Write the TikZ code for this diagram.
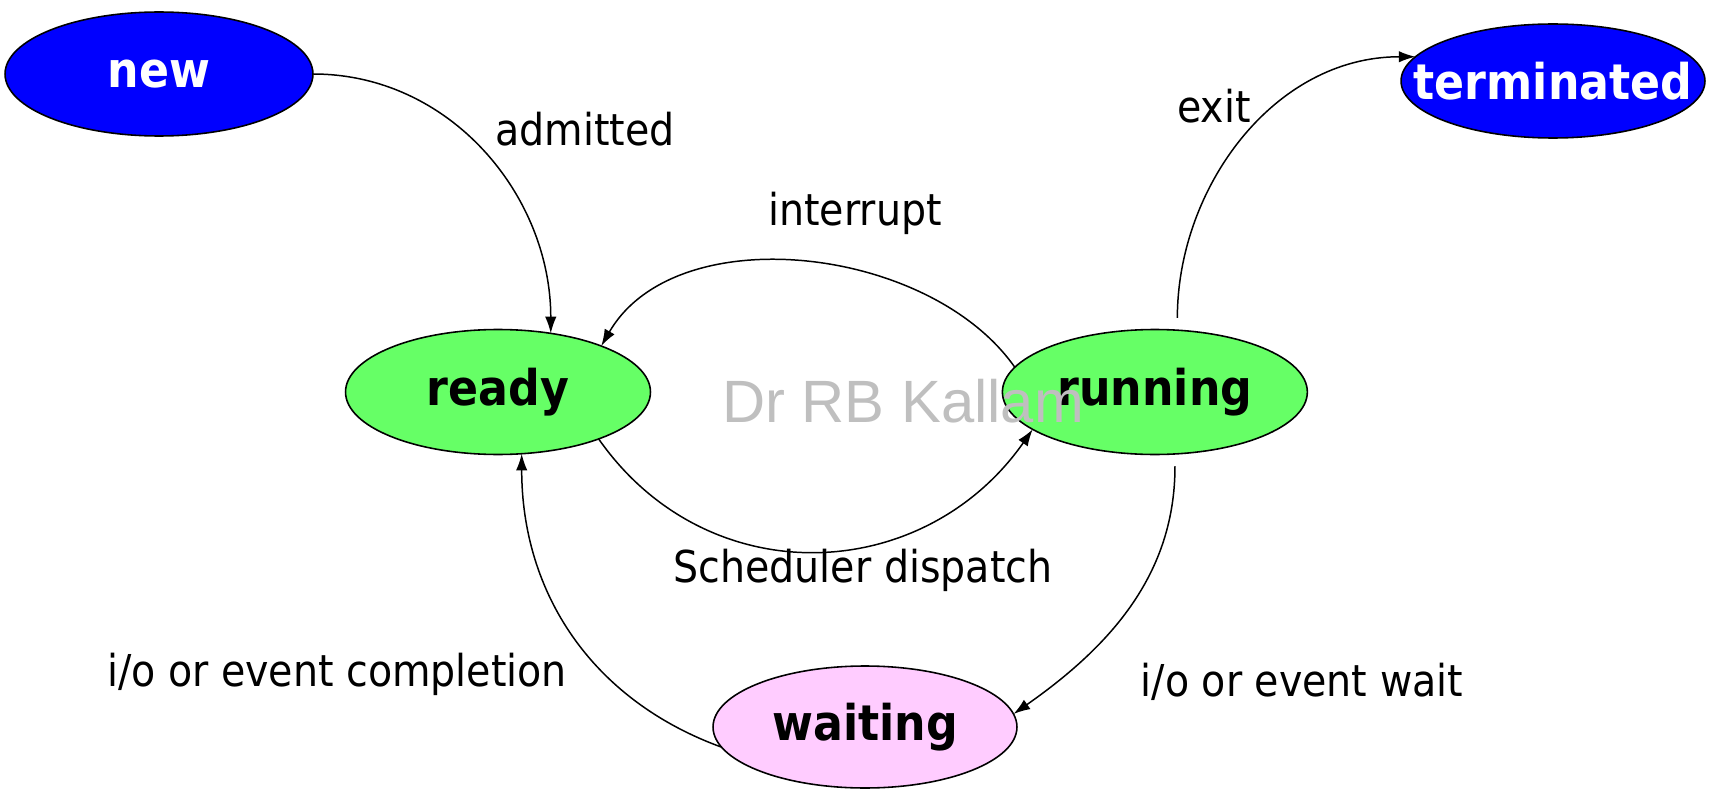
\documentclass[tikz,border=0pt]{standalone}
\usepackage{fontspec}
\setmainfont{DejaVu Sans Condensed}
\newfontfamily\markfont{Liberation Sans}
\usetikzlibrary{shapes.geometric, arrows.meta, positioning}
\definecolor{stateblue}{RGB}{0,0,255}
\definecolor{stategreen}{RGB}{102,255,102}
\definecolor{statepink}{RGB}{255,204,255}
\begin{document}
\begin{tikzpicture}[x=0.02cm, y=0.02cm, every node/.style={font=\fontsize{25}{30}\selectfont},
                    state/.style={ellipse, draw=black, line width=0.9pt, inner sep=0pt, outer sep=0pt,
                                  minimum width=6.1cm, minimum height=2.5cm,
                                  font=\fontsize{28}{32}\selectfont\bfseries},
                    edge/.style={line width=0.85pt, -{Latex[length=9.5pt, width=6.5pt]}}]
    \useasboundingbox (0,0) rectangle (1711,-794);
    \node[state, fill=stategreen] (ready) at (498,-392) {\makebox[0pt]{ready}};
    \node[state, fill=stategreen, right of=ready, node distance=13.14cm] (run) {\makebox[0pt]{running}};
    \node[state, fill=stateblue, text=white, minimum height=2.48cm, minimum width=6.16cm] (new) at (159,-74) {\makebox[0pt]{new}};
    \node[state, fill=stateblue, text=white, minimum height=2.28cm, minimum width=6.08cm] (term) at (1553,-81) {\makebox[0pt]{terminated}};
    \node[state, fill=statepink, minimum height=2.44cm, minimum width=6.08cm] (wait) at (865,-727) {\makebox[0pt]{waiting}};
    \node[text=black!25, font=\markfont\fontsize{34}{40}\selectfont] (mark) at (903,-401) {Dr RB Kallam};
    % transitions
    \draw[edge] (new.east) to[out=0, in=90] (ready.48);
    \draw[edge, shorten <=7pt] (run.70) to[out=90, in=180] (term.170);
    \draw[edge] (run.170) to[out=125, in=60, looseness=0.92] (ready.24);
    \draw[edge] (ready.-25) to[out=-55, in=-125, looseness=1.12] (run.-163);
    \draw[edge, shorten <=7pt] (run.-72) to[out=-90, in=35] (wait.5);
    \draw[edge] (wait.188) to[out=160, in=-90] (ready.-69);
    % labels
    \node (admit) at (585,-129) {admitted};
    \node (exit) at (1214,-106) {exit};
    \node (intr) at (855,-213) {interrupt};
    \node (disp) at (863,-570) {Scheduler dispatch};
    \node (iowait) at (1302,-682) {i/o or event wait};
    \node (iodone) at (337,-674) {i/o or event completion};
\end{tikzpicture}
\end{document}
